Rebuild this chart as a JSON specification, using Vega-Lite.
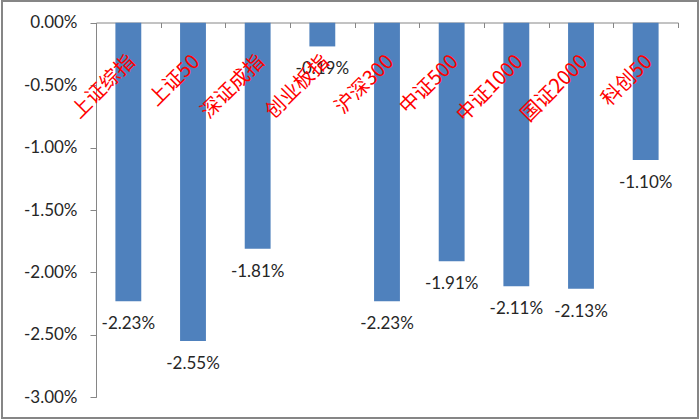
{
  "$schema": "https://vega.github.io/schema/vega-lite/v6.json",
  "autosize": "none",
  "width": 696,
  "height": 417,
  "padding": {"left": 2, "right": 2, "top": 1, "bottom": 1},
  "background": "white",
  "config": {
    "view": {"stroke": "#868686", "strokeWidth": 2},
    "locale": {"number": {"decimal": ".", "thousands": ",", "grouping": [3], "currency": ["$", ""], "minus": "-"}},
    "axis": {"grid": false, "domainColor": "#868686", "tickColor": "#868686", "labelFont": "Lato", "labelFontSize": 17, "labelColor": "#262626", "title": null}
  },
  "data": {
    "values": [
      {"name": "上证综指", "value": -0.0223},
      {"name": "上证50", "value": -0.0255},
      {"name": "深证成指", "value": -0.0181},
      {"name": "创业板指", "value": -0.0019},
      {"name": "沪深300", "value": -0.0223},
      {"name": "中证500", "value": -0.0191},
      {"name": "中证1000", "value": -0.0211},
      {"name": "国证2000", "value": -0.0213},
      {"name": "科创50", "value": -0.011}
    ]
  },
  "encoding": {
    "x": {
      "field": "name", "type": "nominal", "sort": null,
      "scale": {"range": [94, 676], "paddingInner": 0, "paddingOuter": 0},
      "axis": {"orient": "bottom", "offset": -395.5, "labels": false, "tickBand": "extent", "tickSize": 5, "title": null}
    }
  },
  "layer": [
    {
      "mark": {"type": "bar", "color": "#4F81BD", "width": {"band": 0.4}},
      "encoding": {
        "y": {
          "field": "value", "type": "quantitative",
          "scale": {"domain": [-0.03, 0], "range": [396.3, 21.7], "nice": false, "zero": true},
          "axis": {"orient": "left", "offset": -94, "values": [0, -0.005, -0.01, -0.015, -0.02, -0.025, -0.03], "format": ".2%", "tickSize": 6, "labelPadding": 13, "title": null}
        }
      }
    },
    {
      "mark": {"type": "text", "font": "Lato", "fontSize": 17, "color": "#262626", "baseline": "middle", "align": "center", "dy": 23},
      "encoding": {
        "y": {"field": "value", "type": "quantitative"},
        "text": {"field": "value", "type": "quantitative", "format": ".2%"}
      }
    },
    {
      "mark": {"type": "text", "font": "Noto Sans CJK SC", "fontSize": 20, "color": "#FF0000", "baseline": "middle", "align": "right", "angle": -45, "dy": 5},
      "encoding": {
        "y": {"datum": -0.0026, "type": "quantitative"},
        "text": {"field": "name", "type": "nominal"}
      }
    }
  ]
}
